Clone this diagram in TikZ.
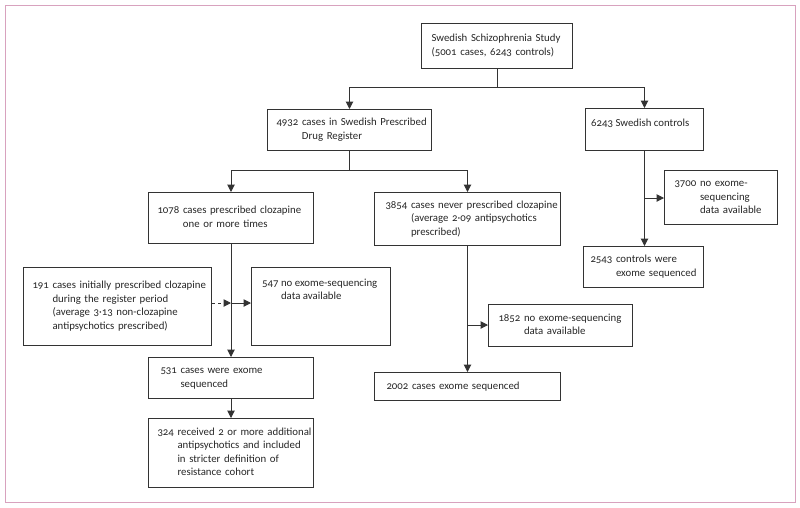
\documentclass[tikz,border=0pt]{standalone}
\usepackage{fontspec}
\setmainfont[Numbers=OldStyle]{Carlito}
\usetikzlibrary{arrows.meta}
\definecolor{framec}{HTML}{D8A2BE}
\definecolor{ink}{HTML}{333333}
\newcommand{\fs}{\fontsize{10.8}{13.5}\selectfont}
\newcommand{\hng}[2]{\begin{tabular}{@{}l@{\ }l@{}}#1&#2\end{tabular}}
\newcommand{\pl}[1]{\begin{tabular}{@{}l@{}}#1\end{tabular}}
\tikzset{
  box/.style={draw=ink, line width=1pt, anchor=north west, inner ysep=0pt, align=left, font=\fs, text=black!85},
  txt/.style={anchor=north west, inner sep=0pt, align=left, font=\fs, text=black!85},
  conn/.style={draw=ink, line width=1pt},
  arr/.style={conn, -{Triangle[length=7.5pt,width=7.5pt]}},
  darr/.style={arr, dashed, dash pattern=on 3pt off 3pt}
}
\begin{document}
\begin{tikzpicture}[x=1pt,y=-1pt]
\useasboundingbox (0,0) rectangle (800,507);
\draw[framec, line width=1pt] (5,5) rectangle (795,502);

\node[box, minimum height=45pt, text width=131pt, inner xsep=10pt] (A) at (421,23)
  {\pl{Swedish Schizophrenia Study\\(5001 cases, 6243 controls)}};
\node[box, minimum height=41pt, text width=146pt, inner xsep=9pt] (B) at (267,109)
  {\hng{4932}{cases in Swedish Prescribed\\&Drug Register}};
\node[box, minimum height=42pt, minimum width=118pt, inner xsep=0pt] (C) at (585,108) {};
\node[txt] (Ct) at ([shift={(6,8.5)}]C.north west) {\pl{6243 Swedish controls}};
\node[box, minimum height=51pt, text width=147pt, inner xsep=9pt] (D) at (148,192)
  {\hng{1078}{cases prescribed clozapine\\&one or more times}};
\node[box, minimum height=53pt, text width=164pt, inner xsep=11pt] (E) at (374,192)
  {\hng{3854}{cases never prescribed clozapine\\&(average 2·09 antipsychotics\\&prescribed)}};
\node[box, minimum height=78pt, text width=170pt, inner xsep=9pt] (F) at (23,267)
  {\hng{191}{cases initially prescribed clozapine\\&during the register period\\&(average 3·13 non-clozapine\\&antipsychotics prescribed)}};
\node[box, minimum height=78pt, minimum width=139pt, inner xsep=0pt] (G) at (251,267) {};
\node[txt] (Gt) at ([shift={(11,9.5)}]G.north west) {\hng{547}{no exome-sequencing\\&data available}};
\node[box, minimum height=41pt, text width=141pt, inner xsep=12pt] (H) at (148,357)
  {\hng{531}{cases were exome\\&sequenced}};
\node[box, minimum height=69pt, text width=147pt, inner xsep=9pt] (I) at (148,418)
  {\hng{324}{received 2 or more additional\\&antipsychotics and included\\&in stricter definition of\\&resistance cohort}};
\node[box, minimum height=28pt, text width=162pt, inner xsep=12pt] (J) at (374,372)
  {\pl{2002 cases exome sequenced}};
\node[box, minimum height=42pt, text width=124pt, inner xsep=10pt] (K) at (488,304)
  {\hng{1852}{no exome-sequencing\\&data available}};
\node[box, minimum height=54pt, text width=93pt, inner xsep=10pt] (L) at (664,170)
  {\hng{3700}{no exome-\\&sequencing\\&data available}};
\node[box, minimum height=41pt, text width=106pt, inner xsep=7pt] (M) at (583,246)
  {\hng{2543}{controls were\\&exome sequenced}};

% connectors
\coordinate (ab) at (A.south |- 0,87);
\draw[conn] (A.south) -- (ab);
\draw[arr] (ab) -| (B.north);
\draw[arr] (ab) -| (C.north);

\coordinate (bde) at (B.south |- 0,170);
\draw[conn] (B.south) -- (bde);
\draw[arr] (bde) -| (D.north);
\draw[arr] (bde) -| (E.north);

\draw[arr] (C.south) -- (C.south |- M.north);
\coordinate (cl) at (C.south |- 0,198);
\draw[arr] (cl) -- (cl -| L.west);

\draw[arr] (D.south) -- (D.south |- H.north);
\coordinate (dg) at (D.south |- 0,303);
\draw[arr] (dg) -- (dg -| G.west);
\draw[darr] (dg -| F.east) -- (dg);

\draw[arr] (H.south) -- (I.north);

\draw[arr] (E.south) -- (E.south |- J.north);
\coordinate (ek) at (E.south |- 0,325);
\draw[arr] (ek) -- (ek -| K.west);
\end{tikzpicture}
\end{document}
